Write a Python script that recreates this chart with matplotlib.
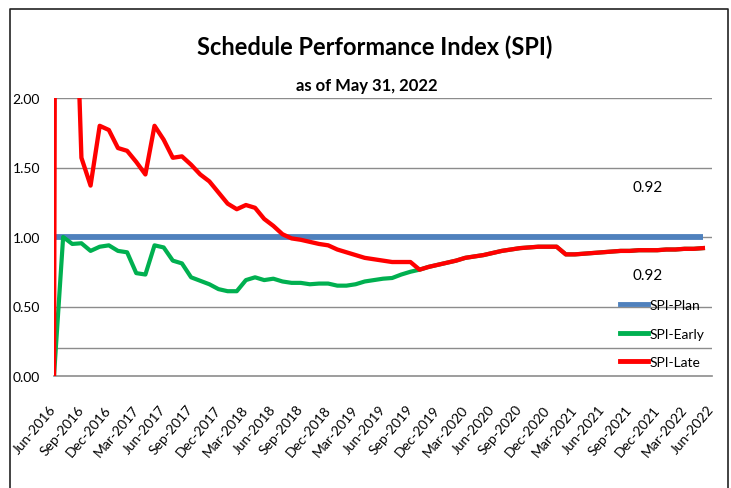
import numpy as np
import matplotlib
matplotlib.use("Agg")
import matplotlib.pyplot as plt
from matplotlib.lines import Line2D

plt.rcParams['font.family'] = ['Lato', 'DejaVu Sans']

TITLE = "Schedule Performance Index (SPI)"
SUBTITLE = "as of May 31, 2022"

# month index 0 = Jun-2016 ... 71 = May-2022
TICK_LABELS = ["Jun-2016", "Sep-2016", "Dec-2016", "Mar-2017", "Jun-2017",
               "Sep-2017", "Dec-2017", "Mar-2018", "Jun-2018", "Sep-2018",
               "Dec-2018", "Mar-2019", "Jun-2019", "Sep-2019", "Dec-2019",
               "Mar-2020", "Jun-2020", "Sep-2020", "Dec-2020", "Mar-2021",
               "Jun-2021", "Sep-2021", "Dec-2021", "Mar-2022", "Jun-2022"]

spi_plan = [1.00, 1.00, 1.00, 1.00, 1.00, 1.00, 1.00, 1.00, 1.00, 1.00, 1.00, 1.00,
            1.00, 1.00, 1.00, 1.00, 1.00, 1.00, 1.00, 1.00, 1.00, 1.00, 1.00, 1.00,
            1.00, 1.00, 1.00, 1.00, 1.00, 1.00, 1.00, 1.00, 1.00, 1.00, 1.00, 1.00,
            1.00, 1.00, 1.00, 1.00, 1.00, 1.00, 1.00, 1.00, 1.00, 1.00, 1.00, 1.00,
            1.00, 1.00, 1.00, 1.00, 1.00, 1.00, 1.00, 1.00, 1.00, 1.00, 1.00, 1.00,
            1.00, 1.00, 1.00, 1.00, 1.00, 1.00, 1.00, 1.00, 1.00, 1.00, 1.00, 1.00]

spi_early = [0.00, 1.00, 0.95, 0.955, 0.90, 0.93, 0.94, 0.90, 0.89, 0.74, 0.73, 0.94,
             0.925, 0.83, 0.81, 0.71, 0.685, 0.66, 0.625, 0.61, 0.61, 0.69, 0.71, 0.69,
             0.70, 0.68, 0.67, 0.67, 0.66, 0.665, 0.665, 0.65, 0.65, 0.66, 0.68, 0.69,
             0.70, 0.705, 0.73, 0.75, 0.765, 0.785, 0.80, 0.815, 0.83, 0.85, 0.86, 0.87,
             0.885, 0.90, 0.91, 0.92, 0.925, 0.93, 0.93, 0.93, 0.875, 0.875, 0.88, 0.885,
             0.89, 0.895, 0.90, 0.90, 0.905, 0.905, 0.905, 0.91, 0.91, 0.915, 0.915, 0.92]

spi_late = [0.00, 25.0, 3.60, 1.57, 1.37, 1.80, 1.77, 1.64, 1.62, 1.54, 1.45, 1.80,
            1.70, 1.57, 1.58, 1.52, 1.45, 1.40, 1.32, 1.24, 1.20, 1.23, 1.21, 1.13,
            1.08, 1.02, 0.99, 0.98, 0.965, 0.95, 0.94, 0.91, 0.89, 0.87, 0.85, 0.84,
            0.83, 0.82, 0.82, 0.82, 0.765, 0.785, 0.80, 0.815, 0.83, 0.85, 0.86, 0.87,
            0.885, 0.90, 0.91, 0.92, 0.925, 0.93, 0.93, 0.93, 0.875, 0.875, 0.88, 0.885,
            0.89, 0.895, 0.90, 0.90, 0.905, 0.905, 0.905, 0.91, 0.91, 0.915, 0.915, 0.92]

C_PLAN = "#4F81BD"
C_EARLY = "#00B050"
C_LATE = "#FF0000"
GRID = "#8C8C8C"

fig = plt.figure(figsize=(7.31, 4.89), dpi=100)
ax = fig.add_axes([54 / 731, 1 - 377 / 489, (712 - 54) / 731, (377 - 99) / 489])

months = np.arange(len(spi_plan))
ax.plot(months, spi_plan, color=C_PLAN, lw=4.2, solid_capstyle='butt', zorder=3)
ax.plot(months, spi_early, color=C_EARLY, lw=3.0, zorder=4)
ax.plot(months, spi_late, color=C_LATE, lw=3.1, zorder=5)

ax.set_xlim(0, 72)
ax.set_ylim(0, 2)
ax.set_yticks([0, 0.5, 1.0, 1.5, 2.0])
ax.set_yticklabels([f"{v:.2f}" for v in [0, 0.5, 1.0, 1.5, 2.0]], fontsize=10)
ax.set_xticks(np.arange(0, 73, 3))
ax.set_xticklabels(TICK_LABELS, fontsize=10, rotation=50, ha='right',
                   va='center', rotation_mode='anchor')
ax.tick_params(axis='y', length=0, pad=10)
ax.tick_params(axis='x', length=0, pad=22)

for y in [0.5, 1.0, 1.5, 2.0, 0.2]:
    ax.axhline(y, color=GRID, lw=1.0, zorder=1)
for s in ['top', 'right', 'left']:
    ax.spines[s].set_visible(False)
ax.spines['bottom'].set_color(GRID)
ax.spines['bottom'].set_linewidth(1.2)

# data labels at the final month
ax.annotate(f"{spi_early[-1]:.2f}", xy=(months[-1], spi_early[-1]),
            xytext=(-40, 44), textcoords='offset points', ha='center',
            va='center', fontsize=11)
ax.annotate(f"{spi_late[-1]:.2f}", xy=(months[-1], spi_late[-1]),
            xytext=(-40, -19), textcoords='offset points', ha='center',
            va='center', fontsize=11)

handles = [Line2D([], [], color=C_PLAN, lw=3.5),
           Line2D([], [], color=C_EARLY, lw=3.5),
           Line2D([], [], color=C_LATE, lw=3.5)]
fig.legend(handles, ["SPI-Plan", "SPI-Early", "SPI-Late"],
           loc='upper left', bbox_to_anchor=(613 / 731, 1 - 293 / 489),
           frameon=False, fontsize=10, handlelength=2.0, handletextpad=0.1,
           labelspacing=1.2, borderpad=0)

fig.text(375 / 731, 1 - 47 / 489, TITLE, ha='center', va='center',
         fontsize=17, fontweight='bold')
fig.text(367 / 731, 1 - 86 / 489, SUBTITLE, ha='center', va='center',
         fontsize=12, fontweight='bold')

# chart frame
fig.add_artist(Line2D([10 / 731, 10 / 731, 728 / 731, 728 / 731],
                      [0, 1 - 10 / 489, 1 - 10 / 489, 0],
                      transform=fig.transFigure, color="#222222", lw=1.2))

fig.savefig("out.png", dpi=100)
